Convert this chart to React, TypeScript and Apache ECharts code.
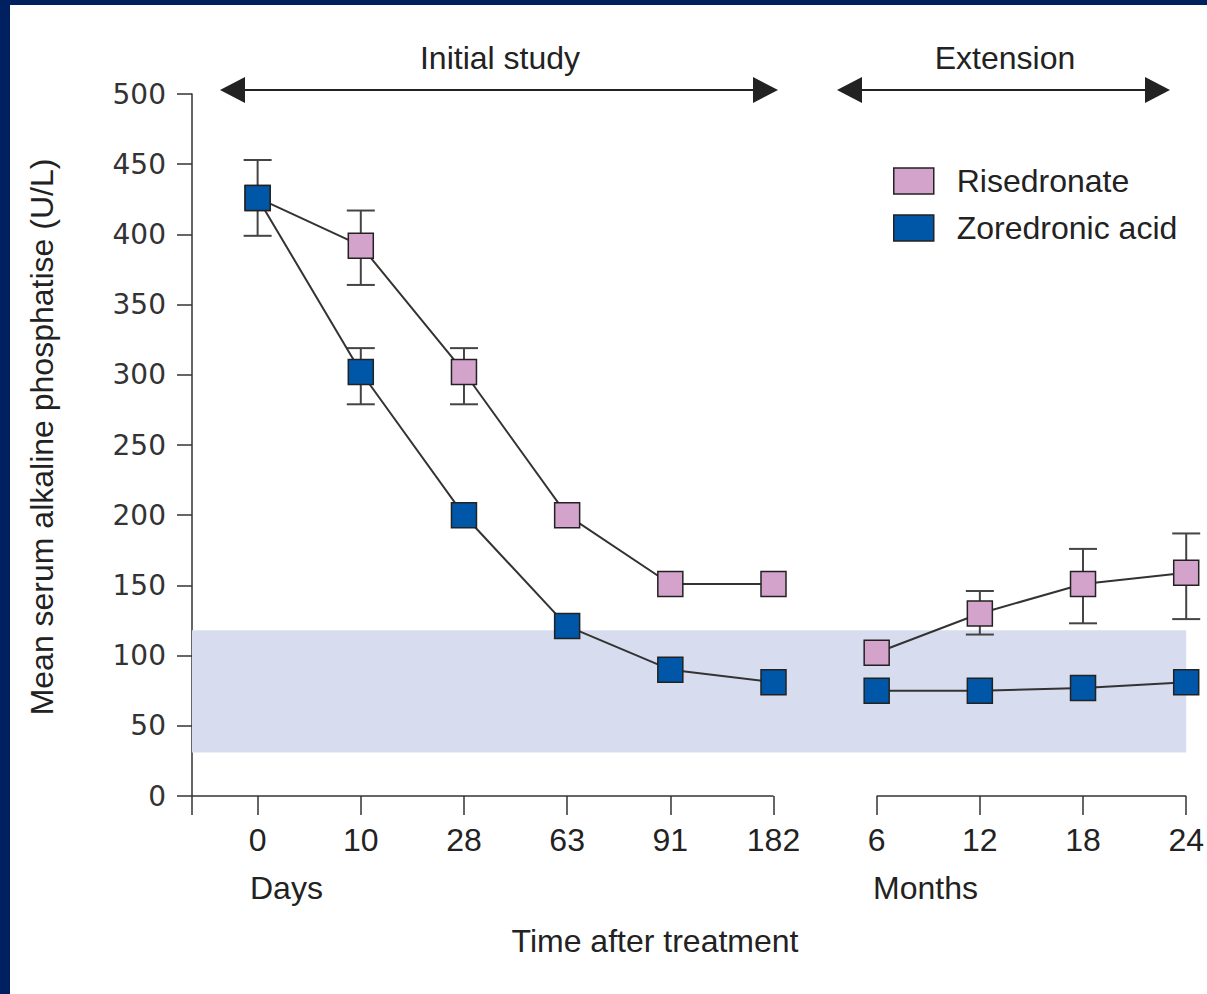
import React, { useEffect, useRef } from 'react';
import * as echarts from 'echarts';

// ---- data ----
const tickLabels = ['0', '10', '28', '63', '91', '182', '6', '12', '18', '24'];
const initialIdx = [0, 1, 2, 3, 4, 5];
const extensionIdx = [6, 7, 8, 9];
const risedronate = [426, 392, 302, 200, 151, 151, 102, 130, 151, 159];
const zoledronic = [426, 302, 200, 121, 90, 81, 75, 75, 77, 81];
const risedronateLow = [null, 364, 279, null, null, null, null, 115, 123, 126];
const risedronateHigh = [null, 417, 319, null, null, null, null, 146, 176, 187];
const zoledronicLow = [399, 279, null, null, null, null, null, null, null, null];
const zoledronicHigh = [453, 319, null, null, null, null, null, null, null, null];
const referenceRange = [31, 118];
const seriesNames = ['Risedronate', 'Zoredronic acid'];
const yTitle = 'Mean serum alkaline phosphatise (U/L)';

// ---- layout / style ----
const FONT = "'Liberation Sans', Arial, sans-serif";
const NAVY = '#002060';
const PINK = '#d3a3cb';
const BLUE = '#0057a8';
const INK = '#222';
const X_MIN = -0.636;
const X_MAX = 9;

const pairs = (idx: number[], vals: number[]) => idx.map((i) => [i, vals[i]]);
const errData = (lo: (number | null)[], hi: (number | null)[]) =>
  lo.map((l, i) => (l == null || hi[i] == null ? null : [i, l, hi[i]])).filter((d) => d) as number[][];

export default function App() {
  const ref = useRef<HTMLDivElement>(null);
  useEffect(() => {
    document.body.style.margin = '0';
    const chart = echarts.init(ref.current!, null, { renderer: 'svg' });

    const lineSeries = (name: string, idx: number[], vals: number[], color: string, z: number) => ({
      type: 'line',
      name,
      data: pairs(idx, vals),
      symbol: 'rect',
      symbolSize: 25,
      z,
      lineStyle: { color: '#333', width: 2 },
      itemStyle: { color, borderColor: '#222', borderWidth: 1.5, opacity: 1 },
      emphasis: { disabled: true },
    });

    const errorSeries = (data: number[][], z: number) => ({
      type: 'custom',
      data,
      z,
      encode: { x: 0, y: [1, 2] },
      renderItem: (params: any, api: any) => {
        const x = api.value(0);
        const a = api.coord([x, api.value(2)]);
        const b = api.coord([x, api.value(1)]);
        const w = 14;
        const style = { stroke: '#444', lineWidth: 2 };
        return {
          type: 'group',
          children: [
            { type: 'line', shape: { x1: a[0], y1: a[1], x2: b[0], y2: b[1] }, style },
            { type: 'line', shape: { x1: a[0] - w, y1: a[1], x2: a[0] + w, y2: a[1] }, style },
            { type: 'line', shape: { x1: b[0] - w, y1: b[1], x2: b[0] + w, y2: b[1] }, style },
          ],
        };
      },
    });

    const arrow = (x1: number, x2: number, y: number) => [
      { type: 'line', shape: { x1: x1 + 15, y1: y, x2: x2 - 15, y2: y }, style: { stroke: INK, lineWidth: 2 } },
      { type: 'polygon', shape: { points: [[x1, y], [x1 + 25, y - 13], [x1 + 25, y + 13]] }, style: { fill: INK } },
      { type: 'polygon', shape: { points: [[x2, y], [x2 - 25, y - 13], [x2 - 25, y + 13]] }, style: { fill: INK } },
    ];
    const text = (t: string, x: number, y: number, align = 'center', rotation = 0) => ({
      type: 'text',
      x,
      y,
      rotation,
      style: { text: t, fontSize: 32, fontFamily: FONT, fill: INK, align, verticalAlign: 'middle' },
    });

    chart.setOption({
      animation: false,
      backgroundColor: '#fff',
      grid: { left: 192, right: 11, top: 94, bottom: 198, containLabel: false },
      legend: {
        data: seriesNames,
        orient: 'vertical',
        left: 893,
        top: 165,
        padding: 0,
        icon: 'rect',
        itemWidth: 40,
        itemHeight: 26,
        itemGap: 15,
        selectedMode: false,
        itemStyle: { borderColor: '#222', borderWidth: 1.5, opacity: 1 },
        textStyle: { fontSize: 32, fontFamily: FONT, color: INK, padding: [0, 0, 0, 18] },
      },
      xAxis: {
        type: 'value',
        min: X_MIN,
        max: X_MAX,
        axisLine: { show: false },
        splitLine: { show: false },
        axisTick: {
          show: true,
          customValues: [X_MIN, ...tickLabels.map((_, i) => i)],
          length: 19,
          lineStyle: { color: '#333', width: 1.5 },
        },
        axisLabel: {
          customValues: tickLabels.map((_, i) => i),
          formatter: (v: number) => tickLabels[Math.round(v)] ?? '',
          fontSize: 32,
          fontFamily: FONT,
          color: INK,
          margin: 28,
        },
      },
      yAxis: {
        type: 'value',
        min: 0,
        max: 500,
        interval: 50,
        axisLine: { show: true, onZero: false, lineStyle: { color: '#333', width: 1.5 } },
        axisTick: { show: true, length: 15, lineStyle: { color: '#333', width: 1.5 } },
        splitLine: { show: false },
        axisLabel: { fontFamily: "'DejaVu Sans', sans-serif", fontSize: 28, color: '#333', margin: 26 },
      },
      series: [
        { type: 'scatter', name: seriesNames[0], data: [], itemStyle: { color: PINK, opacity: 1 } },
        { type: 'scatter', name: seriesNames[1], data: [], itemStyle: { color: BLUE, opacity: 1 } },
        {
          type: 'custom',
          data: [[X_MIN, 5], [6, X_MAX]],
          encode: { x: [0, 1] },
          z: 2,
          silent: true,
          renderItem: (params: any, api: any) => {
            const a = api.coord([api.value(0), 0]);
            const b = api.coord([api.value(1), 0]);
            return { type: 'line', shape: { x1: a[0], y1: a[1], x2: b[0], y2: b[1] }, style: { stroke: '#333', lineWidth: 1.5 } };
          },
          markArea: {
            silent: true,
            itemStyle: { color: '#d8dcef' },
            data: [[{ xAxis: X_MIN, yAxis: referenceRange[0] }, { xAxis: X_MAX, yAxis: referenceRange[1] }]],
          },
        },
        errorSeries(errData(risedronateLow, risedronateHigh), 3),
        errorSeries(errData(zoledronicLow, zoledronicHigh), 3),
        lineSeries(seriesNames[0], initialIdx, risedronate, PINK, 4),
        lineSeries(seriesNames[0], extensionIdx, risedronate, PINK, 4),
        lineSeries(seriesNames[1], initialIdx, zoledronic, BLUE, 5),
        lineSeries(seriesNames[1], extensionIdx, zoledronic, BLUE, 5),
      ],
      graphic: [
        { type: 'rect', shape: { x: 0, y: 0, width: 10, height: 994 }, style: { fill: NAVY }, z: 100 },
        { type: 'rect', shape: { x: 0, y: 0, width: 1207, height: 5 }, style: { fill: NAVY }, z: 100 },
        ...arrow(220, 778, 90),
        ...arrow(837, 1170, 90),
        text('Initial study', 500, 58),
        text('Extension', 1005, 58),
        text('Days', 250, 888, 'left'),
        text('Months', 873, 888, 'left'),
        text('Time after treatment', 655, 941),
        text(yTitle, 42, 437, 'center', Math.PI / 2),
      ],
    });
    return () => chart.dispose();
  }, []);
  return <div ref={ref} style={{ width: 1207, height: 994 }} />;
}
